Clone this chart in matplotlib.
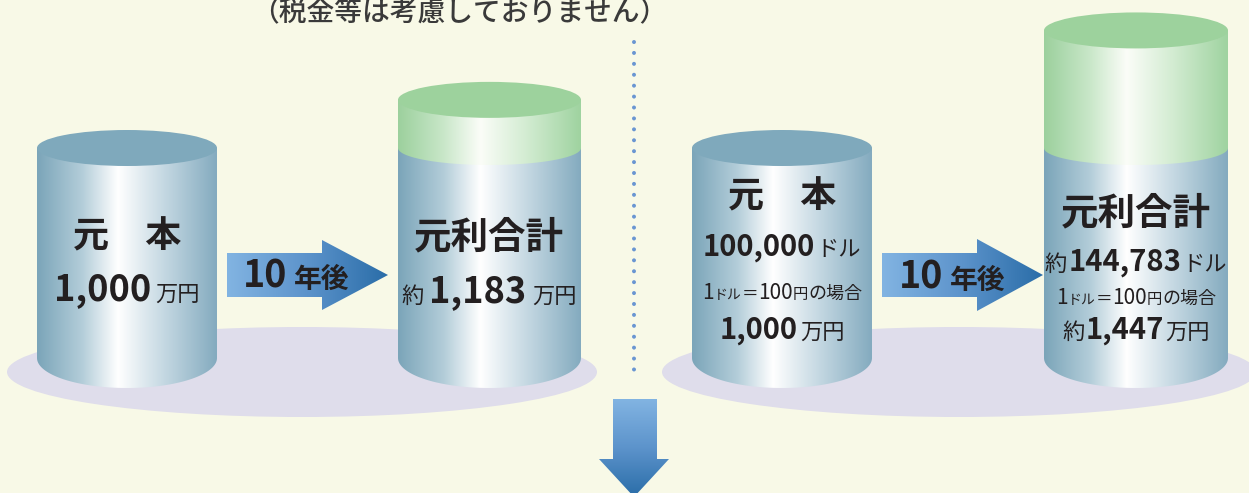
import numpy as np
import matplotlib
matplotlib.use('Agg')
import matplotlib.pyplot as plt
from matplotlib.path import Path
from matplotlib.patches import PathPatch, Ellipse
from matplotlib.colors import LinearSegmentedColormap
from matplotlib.offsetbox import TextArea, HPacker, AnnotationBbox

plt.rcParams['font.family'] = ['Noto Sans CJK JP', 'DejaVu Sans']

# values
years = 10
rate_yen = 100                 # 1ドル = 100円
principal_man = [1000, 1000]   # 万円 (円預金, ドル預金)
total_man = [1183, 1447]       # 万円 after 10 years
principal_usd = 100000
total_usd = 144783
title = '（税金等は考慮しておりません）'

bg = '#F8F9E7'
ink = '#231F20'
blue_cm = LinearSegmentedColormap.from_list(
    'cyl_blue', [(0, '#7BA5B9'), (0.25, '#B3CDD9'), (0.45, '#FFFFFF'),
                 (0.7, '#C6D9E3'), (1, '#84ABBF')])
green_cm = LinearSegmentedColormap.from_list(
    'cyl_green', [(0, '#9CD09D'), (0.25, '#C9E7C9'), (0.45, '#FBFDF8'),
                  (0.7, '#D3ECD2'), (1, '#9FD3A0')])
arrow_cm = LinearSegmentedColormap.from_list('arrow', ['#82B4E2', '#5C93CB', '#2A6DA8'])


def val_y(v):
    # linear value scale of the cylinders (truncated, pixels from top)
    return 148 - 0.263 * (v - 1000)


fig = plt.figure(figsize=(12.49, 4.93), dpi=100)
fig.patch.set_facecolor(bg)
ax = fig.add_axes([0, 0, 1, 1])
ax.set_facecolor(bg)


def arc(cx, cy, rx, ry, t0, t1, n=80):
    t = np.linspace(t0, t1, n)
    return np.column_stack([cx + rx * np.cos(t), cy + ry * np.sin(t)])


def gradient_fill(verts, cmap, extent, z, vertical=False):
    patch = PathPatch(Path(np.vstack([verts, verts[:1]])), facecolor='none',
                      edgecolor='none', transform=ax.transData)
    ax.add_patch(patch)
    g = cmap(np.linspace(0, 1, 256))
    img = g[:, None, :] if vertical else g[None, :, :]
    im = ax.imshow(img, extent=extent, aspect='auto', zorder=z,
                   interpolation='bilinear', origin='upper')
    im.set_clip_path(patch)


def body(cx, rx, y_top, y_bot, ry_bot, cmap, z):
    x0, x1 = cx - rx, cx + rx
    verts = np.vstack([[[x0, y_top], [x0, y_bot]],
                       arc(cx, y_bot, rx, ry_bot, np.pi, 0),
                       [[x1, y_top]]])
    gradient_fill(verts, cmap, (x0, x1, y_bot + ry_bot, y_top), z)


def cylinder(cx, rx, principal, total, z):
    y_bot = 358
    y_p = val_y(principal)
    body(cx, rx, y_p, y_bot, 30, blue_cm, z)
    top_col = '#7FA9BC'
    y_top = y_p
    if total > principal:
        y_top = val_y(total)
        body(cx, rx, y_top, y_p, 17, green_cm, z + 0.1)
        top_col = '#9DD29D'
    ax.add_patch(Ellipse((cx, y_top), 2 * rx, 36, facecolor=top_col,
                         edgecolor='none', zorder=z + 0.2))


def right_arrow(x0, xh, x1, yc, hb, hh, z):
    verts = np.array([[x0, yc - hb], [xh, yc - hb], [xh, yc - hh], [x1, yc],
                      [xh, yc + hh], [xh, yc + hb], [x0, yc + hb]])
    gradient_fill(verts, arrow_cm, (x0, x1, yc + hh, yc - hh), z)


def rich(x, y, parts, sep=2):
    boxes = [TextArea(s, textprops=dict(fontsize=fs, fontweight=w, color=ink))
             for s, fs, w in parts]
    pack = HPacker(children=boxes, align='baseline', pad=0, sep=sep)
    ab = AnnotationBbox(pack, (x, y), xycoords='data', frameon=False,
                        box_alignment=(0.5, 0.5), pad=0, zorder=20)
    ax.add_artist(ab)


# shadows
ax.add_patch(Ellipse((302, 372), 590, 90, facecolor='#DFDDEB', edgecolor='none', zorder=1))
ax.add_patch(Ellipse((959, 372), 594, 90, facecolor='#DFDDEB', edgecolor='none', zorder=1))

# cylinders
cylinder(127, 90, principal_man[0], principal_man[0], 2)
cylinder(489.5, 91.5, principal_man[0], total_man[0], 2)
cylinder(782, 90, principal_man[1], principal_man[1], 2)
cylinder(1136, 92, principal_man[1], total_man[1], 2)

# arrows
right_arrow(227, 322, 388, 275, 22, 35, 3)
right_arrow(882, 977, 1043, 275, 22, 36, 3)
down = np.array([[613, 399], [657, 399], [657, 459], [669, 459], [634, 497],
                 [599, 459], [613, 459]])
gradient_fill(down, arrow_cm, (599, 669, 497, 399), 3, vertical=True)

# dotted divider
ax.plot([634, 634], [42, 378], color='#6A96D2', lw=2.9,
        linestyle=(0, (0.01, 2.7)), dash_capstyle='round', zorder=1.5)

# title
ax.text(459, 13, title, fontsize=20, fontweight='medium', color='#3A3A3A',
        ha='center', va='center')

# texts
rate_line = [('1', 15, 'normal'), ('ドル', 10, 'normal'), ('＝', 12, 'normal'),
             (str(rate_yen), 15, 'normal'), ('円', 11, 'normal'), ('の場合', 13, 'normal')]
after = [(str(years), 27, 'bold'), ('年後', 20, 'bold')]

rich(127, 237, [('元　本', 26, 'bold')])
rich(127, 290, [(f'{principal_man[0]:,}', 26, 'bold'), ('万円', 16, 'normal')], sep=3)
rich(296, 276, after, sep=5)
rich(489, 237, [('元利合計', 27, 'bold')])
rich(489, 292, [('約', 16, 'normal'), (f'{total_man[0]:,}', 26, 'bold'),
                ('万円', 16, 'normal')], sep=4)

rich(782, 197, [('元　本', 26, 'bold')])
rich(782, 247, [(f'{principal_usd:,}', 21, 'bold'), ('ドル', 16, 'normal')], sep=1)
rich(782, 293, rate_line, sep=0)
rich(782, 330, [(f'{principal_man[1]:,}', 21, 'bold'), ('万円', 16, 'normal')], sep=2)
rich(952, 277, after, sep=5)
rich(1136, 213, [('元利合計', 27, 'bold')])
rich(1136, 262, [('約', 16, 'normal'), (f'{total_usd:,}', 21, 'bold'), ('ドル', 16, 'normal')], sep=1)
rich(1136, 298, rate_line, sep=0)
rich(1136, 330, [('約', 16, 'normal'), (f'{total_man[1]:,}', 21, 'bold'), ('万円', 16, 'normal')], sep=1)

ax.set_xlim(0, 1249)
ax.set_ylim(493, 0)
ax.axis('off')
fig.savefig('out.png', dpi=100, facecolor=bg)
